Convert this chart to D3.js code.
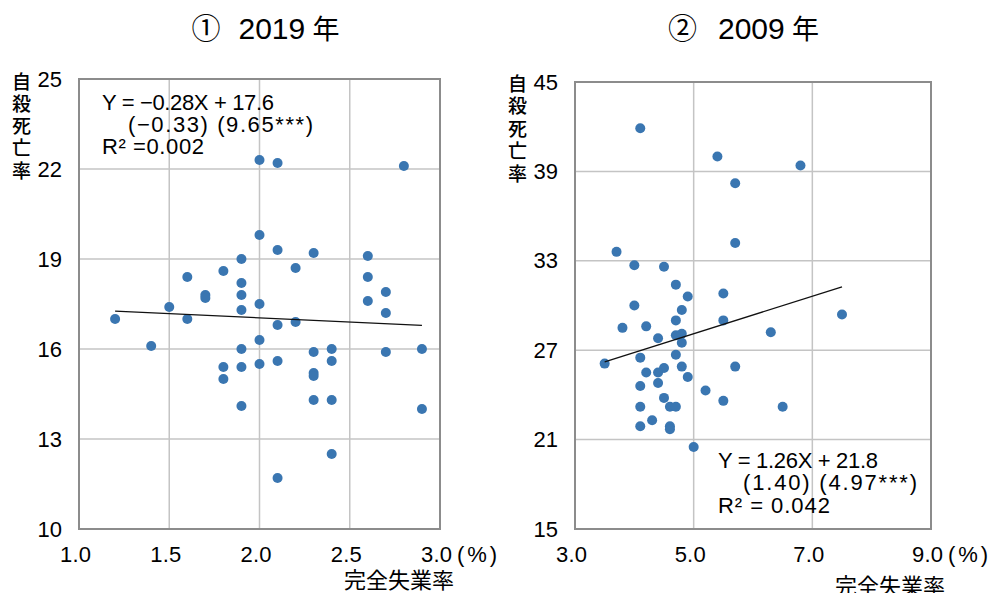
<!DOCTYPE html>
<html>
<head>
<meta charset="utf-8">
<script src="https://cdn.jsdelivr.net/npm/d3@7/dist/d3.min.js"></script>
<style>
  html, body { margin: 0; padding: 0; background: #ffffff; }
  svg { display: block; }
</style>
</head>
<body>
<script>
// ---------------- DATA ----------------
const titles = ["① 2019 年", "② 2009 年"];
const titleParts2019 = ["①", "2019", "年"];
const titleParts2009 = ["②", "2009", "年"];
const yAxisTitle = "自殺死亡率";
const xAxisTitle = "完全失業率";
const unitLabel = "(%)";

// 2019: unemployment rate (x) vs suicide death rate (y)
const x2019 = [1.2, 1.4, 1.5, 1.6, 1.6, 1.7, 1.7, 1.8, 1.8, 1.8,
               1.9, 1.9, 1.9, 1.9, 1.9, 1.9, 1.9, 2.0, 2.0, 2.0,
               2.0, 2.0, 2.1, 2.1, 2.1, 2.1, 2.1, 2.2, 2.2, 2.3,
               2.3, 2.3, 2.3, 2.3, 2.4, 2.4, 2.4, 2.4, 2.6, 2.6,
               2.6, 2.7, 2.7, 2.7, 2.8, 2.9, 2.9];
const y2019 = [17.0, 16.1, 17.4, 18.4, 17.0, 17.8, 17.7, 18.6, 15.4, 15.0,
               19.0, 18.2, 17.8, 17.3, 16.0, 15.4, 14.1, 22.3, 19.8, 17.5,
               16.3, 15.5, 22.2, 19.3, 16.8, 15.6, 11.7, 18.7, 16.9, 19.2,
               15.9, 15.2, 15.1, 14.3, 16.0, 15.6, 14.3, 12.5, 19.1, 18.4,
               17.6, 17.9, 17.2, 15.9, 22.1, 16.0, 14.0];

// 2009
const x2009 = [4.1, 5.4, 6.8, 5.7, 5.7, 3.7, 4.0, 4.5, 4.7, 4.9,
               5.5, 4.0, 4.8, 4.7, 5.5, 7.5, 3.8, 4.2, 6.3, 4.7,
               4.8, 4.4, 4.8, 4.1, 4.7, 3.5, 4.2, 4.5, 4.4, 4.8,
               5.7, 4.9, 4.1, 4.4, 5.2, 5.5, 4.5, 4.1, 4.6, 4.7,
               6.5, 4.3, 4.1, 4.6, 4.6, 5.0];
const y2009 = [41.9, 40.0, 39.4, 38.2, 34.2, 33.6, 32.7, 32.6, 31.4, 30.6,
               30.8, 30.0, 29.7, 29.0, 29.0, 29.4, 28.5, 28.6, 28.2, 28.0,
               28.1, 27.8, 27.5, 26.5, 26.7, 26.1, 25.5, 25.8, 25.5, 25.9,
               25.9, 25.2, 24.6, 24.8, 24.3, 23.6, 23.8, 23.2, 23.2, 23.2,
               23.2, 22.3, 21.9, 21.9, 21.7, 20.5];

const xTicks2019 = [1.0, 1.5, 2.0, 2.5, 3.0];
const yTicks2019 = [10, 13, 16, 19, 22, 25];
const xTicks2009 = [3.0, 5.0, 7.0, 9.0];
const yTicks2009 = [15, 21, 27, 33, 39, 45];

// regression: slope, intercept, x range of the fitted line
const reg2019 = [-0.28, 17.6, 1.2, 2.9];
const reg2009 = [1.26, 21.8, 3.5, 7.5];

const eq2019 = ["Y = −0.28X + 17.6", "(−0.33)  (9.65***)", "R² =0.002"];
const eq2009 = ["Y = 1.26X + 21.8", "(1.40)  (4.97***)", "R² = 0.042"];

// ---------------- DRAWING ----------------
const W = 993, H = 593;
const svg = d3.select("body").append("svg").attr("width", W).attr("height", H);

const NUM_FONT = "'Liberation Sans Narrow', 'Liberation Sans', Arial, sans-serif";
const CJK_FONT = "'Noto Sans CJK JP', 'Noto Sans', sans-serif";
const DOT = "#3a76b1";

function panel(cfg) {
  const g = svg.append("g");
  const x = d3.scaleLinear().domain(cfg.xDomain).range([cfg.left, cfg.right]);
  const y = d3.scaleLinear().domain(cfg.yDomain).range([cfg.bottom, cfg.top]);

  // grid
  g.append("g").selectAll("line").data(cfg.xTicks).join("line")
    .attr("x1", d => x(d)).attr("x2", d => x(d))
    .attr("y1", cfg.top).attr("y2", cfg.bottom)
    .attr("stroke", "#c4c4c4").attr("stroke-width", 1.5);
  g.append("g").selectAll("line").data(cfg.yTicks).join("line")
    .attr("x1", cfg.left).attr("x2", cfg.right)
    .attr("y1", d => y(d)).attr("y2", d => y(d))
    .attr("stroke", "#c4c4c4").attr("stroke-width", 1.5);

  // border
  g.append("rect")
    .attr("x", cfg.left).attr("y", cfg.top)
    .attr("width", cfg.right - cfg.left).attr("height", cfg.bottom - cfg.top)
    .attr("fill", "none").attr("stroke", "#8c8c8c").attr("stroke-width", 2);

  // dots
  const pts = cfg.xs.map((v, i) => [v, cfg.ys[i]]);
  g.append("g").selectAll("circle").data(pts).join("circle")
    .attr("cx", d => x(d[0])).attr("cy", d => y(d[1])).attr("r", 5)
    .attr("fill", DOT);

  // regression line
  const [slope, icpt, x0, x1] = cfg.reg;
  const line = d3.line().x(d => x(d)).y(d => y(slope * d + icpt));
  g.append("path").datum([x0, x1]).attr("d", line)
    .attr("fill", "none").attr("stroke", "#111").attr("stroke-width", 1.3);

  // y axis
  const ya = g.append("g").attr("transform", `translate(${cfg.left},0)`)
    .call(d3.axisLeft(y).tickValues(cfg.yTicks).tickSize(0).tickPadding(17));
  ya.select(".domain").remove();
  ya.selectAll("text").attr("font-family", NUM_FONT).attr("font-size", 22)
    .attr("fill", "#000");

  // x axis
  const xa = g.append("g").attr("transform", `translate(0,${cfg.bottom})`)
    .call(d3.axisBottom(x).tickValues(cfg.xTicks).tickFormat(d3.format(".1f")).tickSize(0));
  xa.select(".domain").remove();
  xa.selectAll("text").attr("font-family", NUM_FONT).attr("font-size", 22)
    .attr("fill", "#000").attr("dy", null).attr("y", 33).attr("x", -4)
    .attr("textLength", 31).attr("lengthAdjust", "spacing");

  // (%) unit
  g.append("text").attr("x", cfg.right + 17).attr("y", cfg.bottom + 33)
    .attr("font-family", NUM_FONT).attr("font-size", 22)
    .attr("textLength", 40).attr("lengthAdjust", "spacing")
    .text(unitLabel);

  // x axis title
  g.append("text").attr("x", cfg.xTitleX).attr("y", cfg.xTitleY)
    .attr("text-anchor", "middle").attr("font-family", CJK_FONT).attr("font-size", 22)
    .text(xAxisTitle);

  // vertical y title (single text, vertical writing)
  g.append("text")
    .attr("x", cfg.yTitleX).attr("y", cfg.yTitleY)
    .attr("writing-mode", "vertical-rl")
    .attr("font-family", CJK_FONT).attr("font-size", 19)
    .attr("font-weight", 500)
    .attr("letter-spacing", cfg.yTitleStep - 19)
    .text(yAxisTitle);

  // title
  const cx = (cfg.left + cfg.right) / 2;
  const t = g.append("text").attr("y", 39).attr("font-size", 30).attr("fill", "#000");
  t.append("tspan").attr("x", cx + cfg.titleOff[0]).attr("font-family", CJK_FONT).attr("font-size", 29).text(cfg.titleParts[0]);
  t.append("tspan").attr("x", cx + cfg.titleOff[1]).attr("font-family", NUM_FONT).text(cfg.titleParts[1]);
  t.append("tspan").attr("x", cx + cfg.titleOff[2]).attr("font-family", CJK_FONT).attr("font-size", 27).text(cfg.titleParts[2]);

  // regression equation
  g.append("g").selectAll("text").data(cfg.eq).join("text")
    .attr("x", (d, i) => cfg.eqX[i]).attr("y", (d, i) => cfg.eqY[i])
    .attr("font-family", NUM_FONT).attr("font-size", 22).attr("fill", "#000")
    .attr("textLength", (d, i) => cfg.eqW[i]).attr("lengthAdjust", "spacing")
    .text(d => d);
}

panel({
  left: 79, right: 440, top: 79, bottom: 529,
  xDomain: [1, 3], yDomain: [10, 25],
  xTicks: xTicks2019, yTicks: yTicks2019,
  xs: x2019, ys: y2019, reg: reg2019, eq: eq2019,
  eqX: [102, 128, 102], eqY: [110, 132, 154], eqW: [172, 185, 102],
  xTitleX: 399, xTitleY: 588,
  yTitleX: 21.5, yTitleY: 72, yTitleStep: 22.25,
  titleParts: titleParts2019, titleOff: [-68, -21, 53]
});

panel({
  left: 575, right: 931, top: 82, bottom: 529,
  xDomain: [3, 9], yDomain: [15, 45],
  xTicks: xTicks2009, yTicks: yTicks2009,
  xs: x2009, ys: y2009, reg: reg2009, eq: eq2009,
  eqX: [718, 743, 718], eqY: [468, 490, 513], eqW: [160, 174, 112],
  xTitleX: 890, xTitleY: 594,
  yTitleX: 517.5, yTitleY: 74, yTitleStep: 22.5,
  titleParts: titleParts2009, titleOff: [-85, -35, 39]
});
</script>
</body>
</html>
